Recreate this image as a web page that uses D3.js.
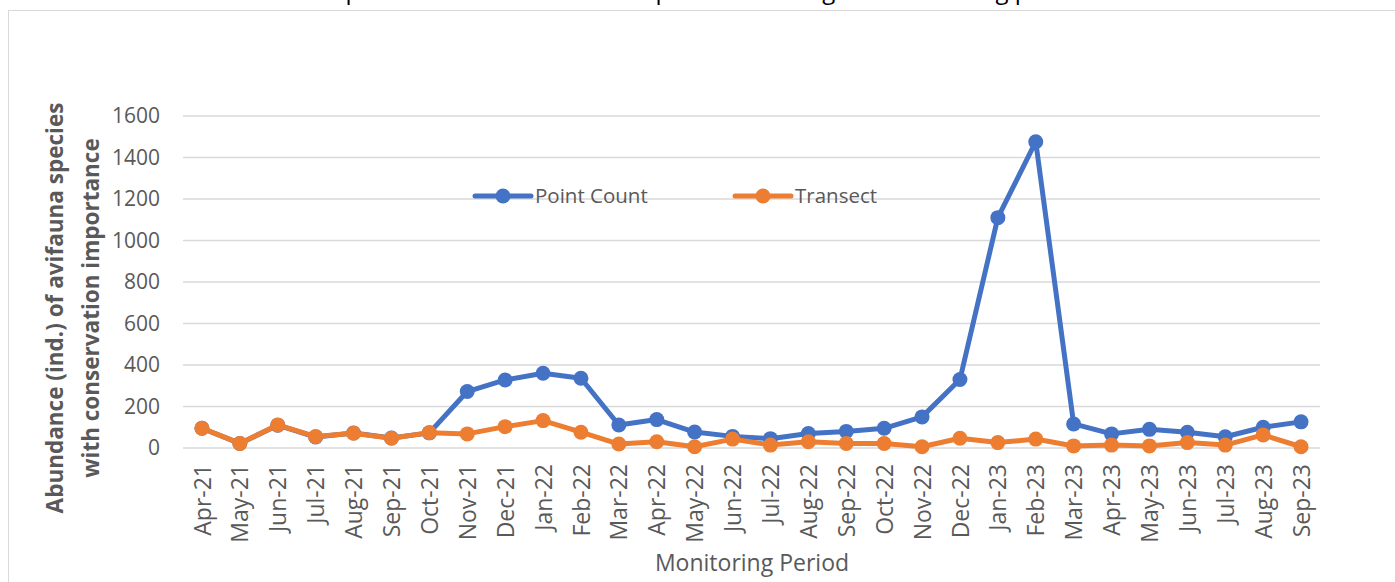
<!DOCTYPE html>
<html>
<head>
<meta charset="utf-8">
<script src="https://cdn.jsdelivr.net/npm/d3@7"></script>
<style>
  body { margin: 0; background: #fff; }
  text { font-family: "Open Sans", sans-serif; fill: #595959; }
</style>
</head>
<body>
<div id="chart"></div>
<script>
// data
const months = ["Apr-21","May-21","Jun-21","Jul-21","Aug-21","Sep-21","Oct-21","Nov-21","Dec-21","Jan-22",
  "Feb-22","Mar-22","Apr-22","May-22","Jun-22","Jul-22","Aug-22","Sep-22","Oct-22","Nov-22",
  "Dec-22","Jan-23","Feb-23","Mar-23","Apr-23","May-23","Jun-23","Jul-23","Aug-23","Sep-23"];
const pointCount = [95,22,110,53,72,48,73,272,328,360,336,111,137,77,56,45,70,80,95,150,
  330,1110,1476,116,68,90,76,54,100,126];
const transect = [95,22,111,55,71,47,74,68,103,132,76,19,30,6,43,14,30,22,22,6,
  47,26,43,10,14,10,26,14,63,6];
const yTicks = [0,200,400,600,800,1000,1200,1400,1600];
const seriesNames = ["Point Count","Transect"];
const colors = ["#4472C4","#ED7D31"];

const width = 1395, height = 582;
const margin = {top: 116, right: 75, bottom: 134, left: 183};

const svg = d3.select("#chart").append("svg")
  .attr("width", width).attr("height", height);

// outer chart frame
svg.append("rect")
  .attr("x", 8.5).attr("y", 10.5)
  .attr("width", 1420).attr("height", 620)
  .attr("fill", "none").attr("stroke", "#d9d9d9").attr("stroke-width", 1);

// title, mostly cut off above the frame
svg.append("text")
  .attr("x", 579).attr("y", -1)
  .attr("text-anchor", "middle")
  .style("font-size", "24px").style("fill", "#000")
  .text("Abundance of avifauna species with conservation importance during the monitoring period");

const x = d3.scalePoint()
  .domain(months)
  .range([margin.left, width - margin.right])
  .padding(0.5);

const y = d3.scaleLinear()
  .domain([0, 1600])
  .range([height - margin.bottom, margin.top]);

// gridlines
svg.append("g")
  .selectAll("line")
  .data(yTicks)
  .join("line")
    .attr("x1", margin.left).attr("x2", width - margin.right)
    .attr("y1", d => y(d)).attr("y2", d => y(d))
    .attr("stroke", "#d9d9d9").attr("stroke-width", 1.5);

// y axis
const yAxis = svg.append("g")
  .attr("transform", `translate(${margin.left},0)`)
  .call(d3.axisLeft(y).tickValues(yTicks).tickFormat(d3.format("d")).tickSize(0).tickPadding(23));
yAxis.select(".domain").remove();
yAxis.selectAll("text").style("font-size", "21px").style("font-family", "Open Sans").attr("fill", "#595959");

// x axis
const xAxis = svg.append("g")
  .attr("transform", `translate(0,${height - margin.bottom})`)
  .call(d3.axisBottom(x).tickSize(0));
xAxis.select(".domain").remove();
xAxis.selectAll("text")
  .style("font-size", "23px").style("font-family", "Open Sans").attr("fill", "#595959")
  .attr("text-anchor", "end")
  .attr("transform", "rotate(-90)")
  .attr("x", -16).attr("y", 0).attr("dy", "0.35em");

// axis titles
svg.append("text")
  .attr("x", 752).attr("y", 571)
  .attr("text-anchor", "middle")
  .style("font-size", "23px")
  .text("Monitoring Period");

const yTitle = svg.append("text")
  .attr("transform", "translate(0,308) rotate(-90)")
  .attr("text-anchor", "middle")
  .style("font-size", "22.5px").style("font-weight", "bold");
yTitle.append("tspan").attr("x", 0).attr("y", 63).text("Abundance (ind.) of avifauna species");
yTitle.append("tspan").attr("x", 0).attr("y", 99).text("with conservation importance");

// lines
const line = d3.line()
  .x((d, i) => x(months[i]))
  .y(d => y(d));

[pointCount, transect].forEach((vals, k) => {
  const g = svg.append("g");
  g.append("path")
    .datum(vals)
    .attr("fill", "none")
    .attr("stroke", colors[k])
    .attr("stroke-width", 5)
    .attr("stroke-linejoin", "round")
    .attr("stroke-linecap", "round")
    .attr("d", line);
  g.selectAll("circle")
    .data(vals)
    .join("circle")
      .attr("cx", (d, i) => x(months[i]))
      .attr("cy", d => y(d))
      .attr("r", 7.5)
      .attr("fill", colors[k]);
});

// legend
const legendX = [475, 735];
const legend = svg.append("g");
seriesNames.forEach((name, k) => {
  const lg = legend.append("g").attr("transform", `translate(${legendX[k]},196)`);
  lg.append("line")
    .attr("x1", 0).attr("x2", 56).attr("y1", 0).attr("y2", 0)
    .attr("stroke", colors[k]).attr("stroke-width", 5).attr("stroke-linecap", "round");
  lg.append("circle").attr("cx", 28).attr("cy", 0).attr("r", 7.5).attr("fill", colors[k]);
  lg.append("text")
    .attr("x", 60).attr("y", 0).attr("dy", "0.35em")
    .style("font-size", "20.5px")
    .text(name);
});
</script>
</body>
</html>
